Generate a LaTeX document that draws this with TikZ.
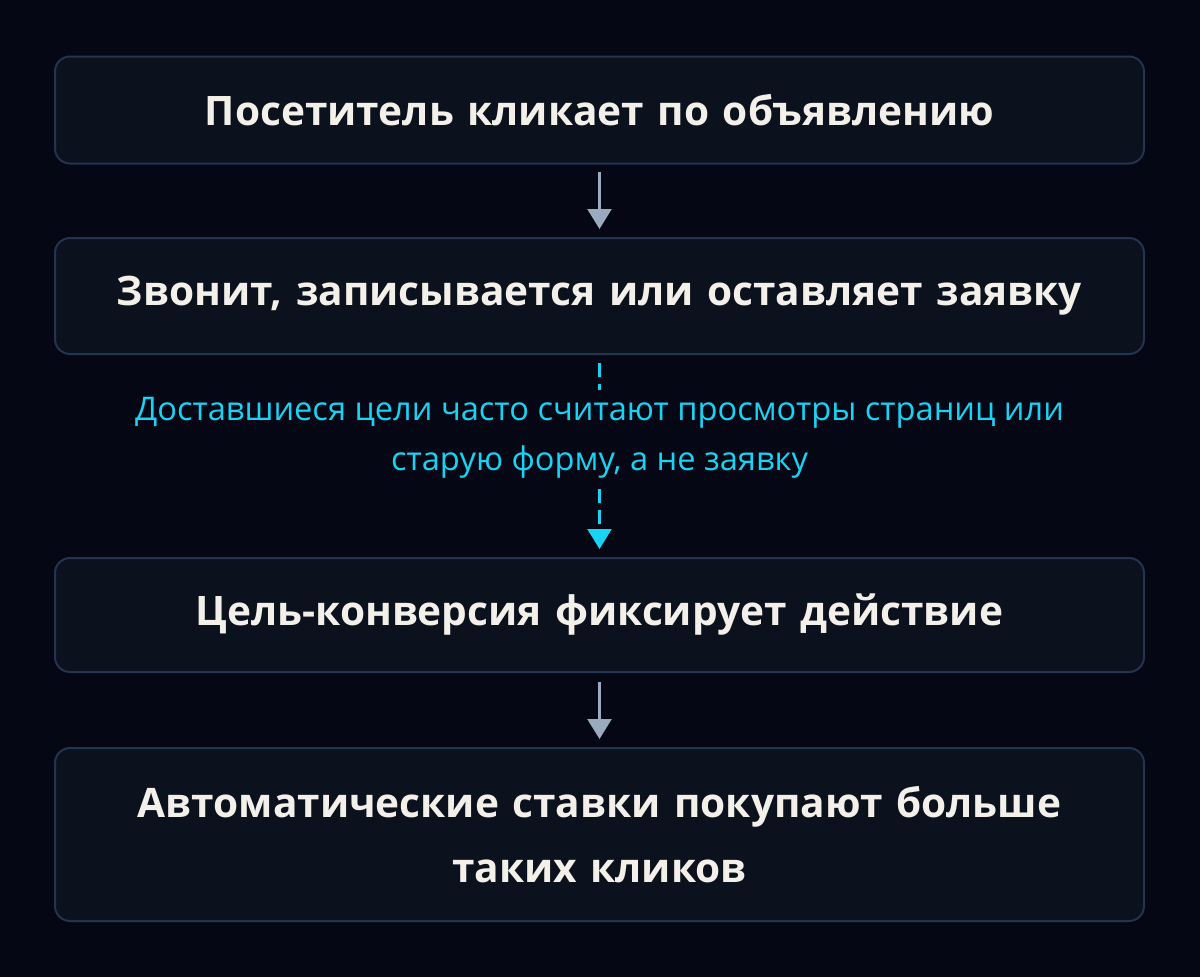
\documentclass[tikz,border=0pt]{standalone}
\usepackage{fontspec}
\setmainfont{Open Sans}
\usetikzlibrary{arrows.meta}
\definecolor{bg}{HTML}{050814}
\definecolor{boxfill}{HTML}{0B111D}
\definecolor{boxline}{HTML}{243350}
\definecolor{txt}{HTML}{F3F0EA}
\definecolor{cyanc}{HTML}{19D3F5}
\definecolor{arrowc}{HTML}{9AABC0}
\tikzset{
  stepbox/.style={draw=boxline, line width=2pt, fill=boxfill, rounded corners=15pt,
    minimum width=1089pt, text width=1040pt, align=center, inner sep=0pt,
    text=txt, font=\fontsize{40.6}{65}\selectfont\bfseries},
  flow/.style={draw=arrowc, line width=2.5pt, -{Triangle[width=24pt,length=20pt]}},
  dflow/.style={draw=cyanc, line width=2.5pt, dash pattern=on 14pt off 7pt, -{Triangle[width=24pt,length=20pt]}},
  note/.style={fill=bg, text=cyanc, align=center, inner xsep=4pt, inner ysep=7pt,
    font=\fontsize{32.6}{50}\selectfont}
}
\begin{document}
\begin{tikzpicture}[x=1pt,y=-1pt]
\fill[bg] (0,0) rectangle (1200,977);
\useasboundingbox (0,0) rectangle (1200,977);
\node[stepbox, minimum height=107pt] (b1) at (599.5,110) {Посетитель кликает по объявлению};
\node[stepbox, minimum height=116pt] (b2) at (599.5,296) {Звонит, записывается или оставляет заявку};
\node[stepbox, minimum height=114pt] (b3) at (599.5,615) {Цель-конверсия фиксирует действие};
\node[stepbox, minimum height=173pt] (b4) at (599.5,834.5) {Автоматические ставки покупают больше\\таких кликов};
\coordinate (a1s) at (599.5,172);
\coordinate (a1e) at (599.5,229);
\draw[flow] (a1s) -- (a1e);
\coordinate (a3s) at (599.5,682);
\coordinate (a3e) at (599.5,739);
\draw[flow] (a3s) -- (a3e);
\coordinate (a2s) at (599.5,363);
\coordinate (a2e) at (599.5,549);
\draw[dflow] (a2s) -- (a2e);
\node[note] (n) at (599.5,438) {Доставшиеся цели часто считают просмотры страниц или\\старую форму, а не заявку};
\end{tikzpicture}
\end{document}
